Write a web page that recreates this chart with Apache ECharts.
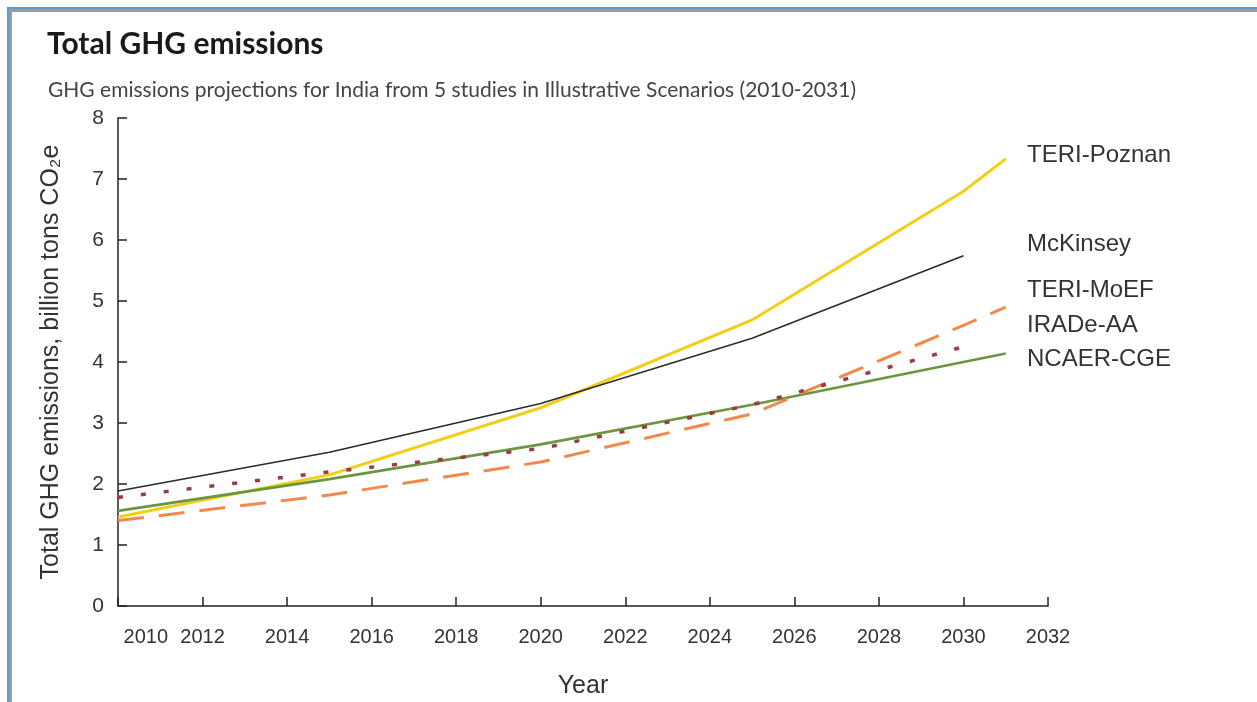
<!DOCTYPE html>
<html>
<head>
<meta charset="utf-8">
<script src="https://cdn.jsdelivr.net/npm/echarts@6/dist/echarts.min.js"></script>
<style>
  body { margin: 0; background: #fff; }
  #wrap { position: relative; width: 1257px; height: 702px; overflow: hidden; }
  #frame1 { position: absolute; left: 7px; top: 7px; width: 1300px; height: 760px;
            border-top: 2px solid #5b9bd5; border-left: 2px solid #5b9bd5; }
  #frame2 { position: absolute; left: 9px; top: 9px; width: 1300px; height: 760px;
            border-top: 3px solid #9b9b9b; border-left: 3px solid #9b9b9b; }
  #box { position: absolute; left: 0; top: 0; width: 1257px; height: 702px; }
</style>
</head>
<body>
<div id="wrap">
  <div id="frame1"></div>
  <div id="frame2"></div>
  <div id="box"></div>
</div>
<script>
// years for each study
var yearsLong = [2010, 2015, 2020, 2025, 2030, 2031];
var yearsShort = [2010, 2015, 2020, 2025, 2030];

// billion tons CO2e
var teriPoznan = [1.46, 2.15, 3.25, 4.69, 6.8, 7.33];
var mckinsey = [1.885, 2.52, 3.32, 4.39, 5.74];
var teriMoef = [1.40, 1.82, 2.36, 3.15, 4.6, 4.9];
var iradeAA = [1.78, 2.2, 2.58, 3.3, 4.25];
var ncaerCge = [1.56, 2.08, 2.65, 3.3, 4.0, 4.14];

var names = ['TERI-Poznan', 'McKinsey', 'TERI-MoEF', 'IRADe-AA', 'NCAER-CGE'];

function pairs(xs, ys) {
    var list = [];
    for (let i = 0; i < ys.length; i++) {
        list.push([xs[i], ys[i]]);
    }
    return list;
}

var myChart = echarts.init(document.getElementById("box"));

var font = '"Liberation Sans", Arial, sans-serif';
var txt = { fontFamily: font, fontSize: 24, fill: '#333' };

var option = {
    animation: false,
    title: [{
        text: 'Total GHG emissions',
        left: 42,
        top: 24,
        textStyle: { fontFamily: 'Lato', fontWeight: 'bold', fontSize: 30, color: '#1a1a1a' }
    }, {
        text: 'GHG emissions projections for India from 5 studies in Illustrative Scenarios (2010-2031)',
        left: 43,
        top: 75,
        textStyle: { fontFamily: 'Lato', fontWeight: 'normal', fontSize: 21, color: '#444' }
    }],
    grid: {
        left: 118,
        right: 209,
        top: 118,
        bottom: 96,
        outerBoundsMode: 'none'
    },
    xAxis: {
        type: 'value',
        min: 2010,
        max: 2032,
        interval: 2,
        name: 'Year',
        nameLocation: 'middle',
        nameGap: 68,
        nameTextStyle: { fontFamily: font, fontSize: 25, color: '#333' },
        axisLine: { lineStyle: { color: '#222', width: 1.5 } },
        axisTick: { inside: true, length: 9, lineStyle: { color: '#222', width: 1.5 } },
        axisLabel: {
            margin: 21,
            fontFamily: font,
            fontSize: 20,
            color: '#333',
            alignMinLabel: 'left',
            formatter: function (v) {
                return v == 2010 ? ' ' + v : '' + v;
            }
        },
        splitLine: { show: false }
    },
    yAxis: {
        type: 'value',
        min: 0,
        max: 8,
        interval: 1,
        name: 'Total GHG emissions, billion tons CO\u2082e',
        nameLocation: 'middle',
        nameGap: 54,
        nameTextStyle: { fontFamily: font, fontSize: 25, color: '#333' },
        axisLine: { show: true, lineStyle: { color: '#222', width: 1.5 } },
        axisTick: { show: true, inside: true, length: 9, lineStyle: { color: '#222', width: 1.5 } },
        axisLabel: { margin: 14, fontFamily: font, fontSize: 21, color: '#333' },
        splitLine: { show: false }
    },
    series: [{
        name: names[0],
        type: 'line',
        symbol: 'none',
        data: pairs(yearsLong, teriPoznan),
        lineStyle: { color: '#f2cf16', width: 3 }
    }, {
        name: names[1],
        type: 'line',
        symbol: 'none',
        data: pairs(yearsShort, mckinsey),
        lineStyle: { color: '#2b2b2b', width: 1.6 }
    }, {
        name: names[4],
        type: 'line',
        symbol: 'none',
        data: pairs(yearsLong, ncaerCge),
        lineStyle: { color: '#6a9640', width: 2.6 }
    }, {
        name: names[2],
        type: 'line',
        symbol: 'none',
        data: pairs(yearsLong, teriMoef),
        lineStyle: { color: '#f08a4c', width: 3, type: [26, 15] }
    }, {
        name: names[3],
        type: 'line',
        symbol: 'none',
        data: pairs(yearsShort, iradeAA),
        lineStyle: { color: '#9c3a40', width: 3.5, type: [5, 18] }
    }],
    graphic: [
        { type: 'text', left: 1027, top: 143, style: Object.assign({ text: names[0] }, txt) },
        { type: 'text', left: 1027, top: 232, style: Object.assign({ text: names[1] }, txt) },
        { type: 'text', left: 1027, top: 278, style: Object.assign({ text: names[2] }, txt) },
        { type: 'text', left: 1027, top: 313, style: Object.assign({ text: names[3] }, txt) },
        { type: 'text', left: 1027, top: 347, style: Object.assign({ text: names[4] }, txt) }
    ]
};

myChart.setOption(option);
</script>
</body>
</html>
